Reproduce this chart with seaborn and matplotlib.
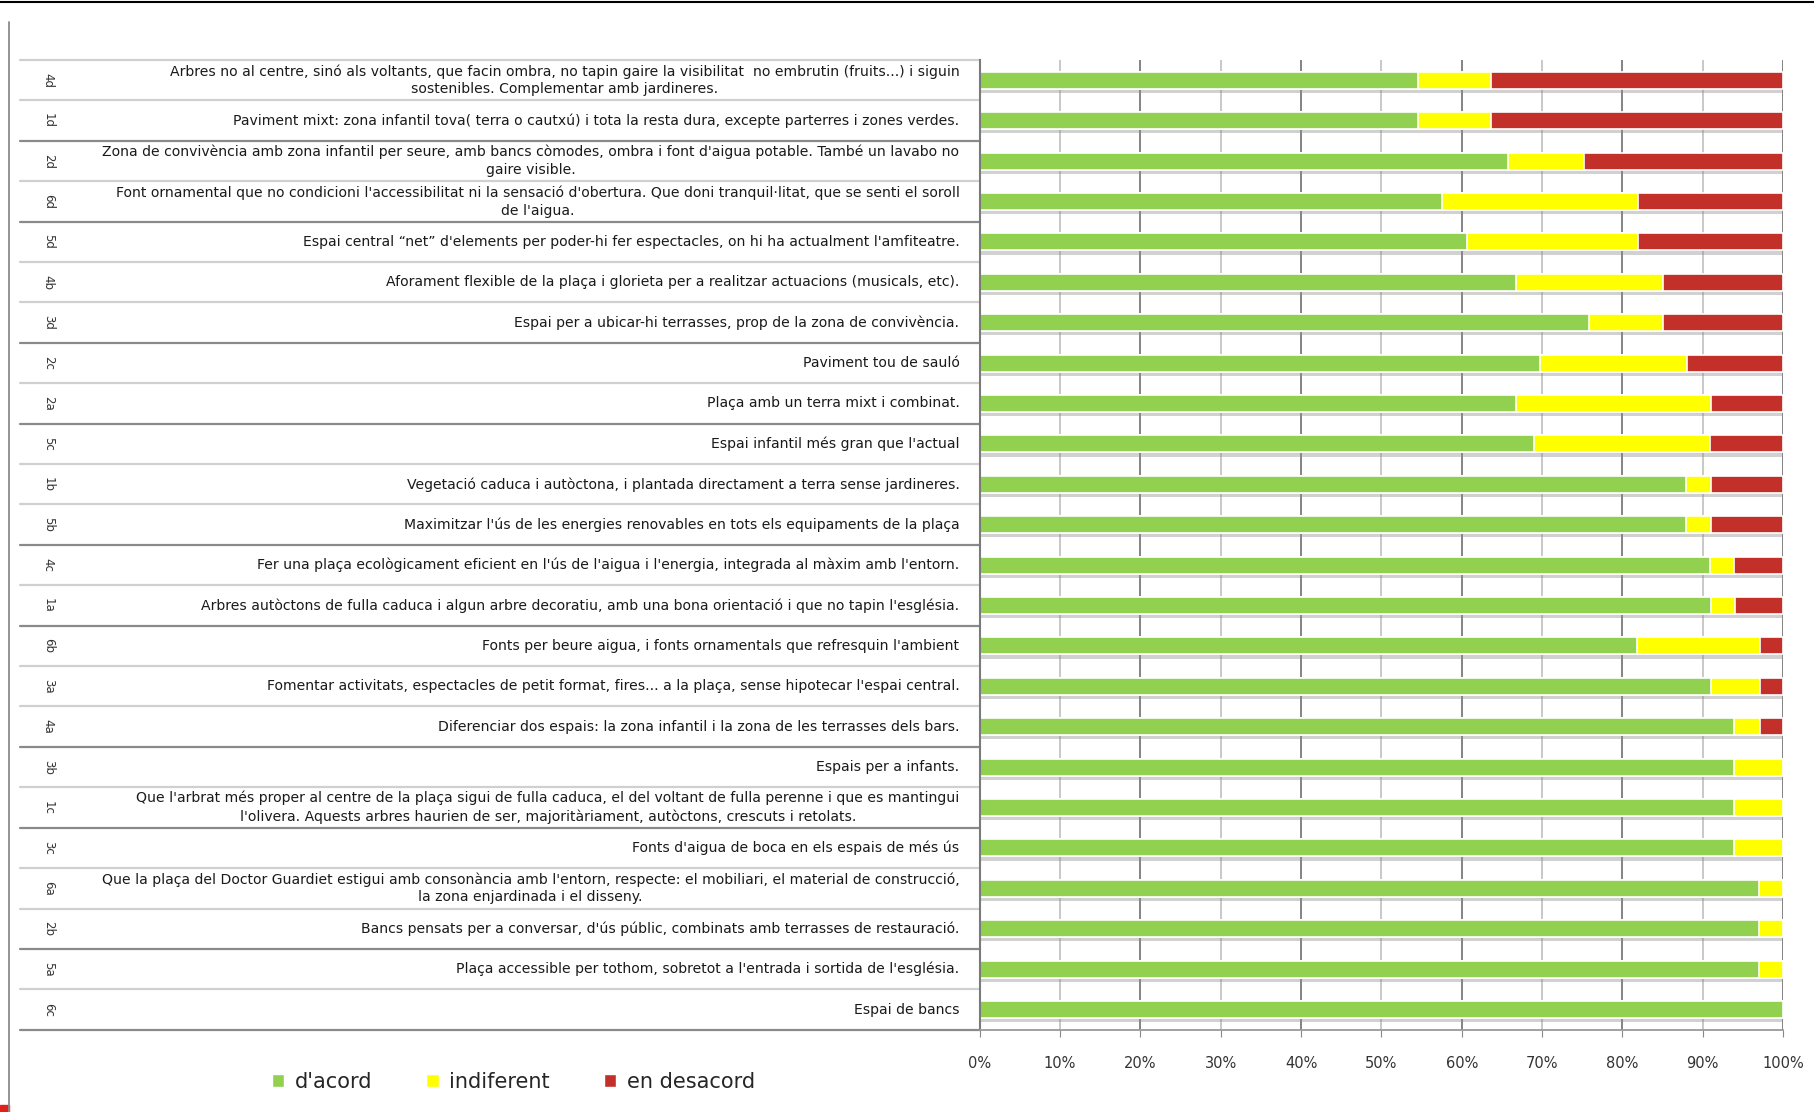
import pandas as pd
import matplotlib.pyplot as plt
import seaborn as sns
from matplotlib import patheffects
from matplotlib.lines import Line2D
from matplotlib.patches import Patch, Rectangle
from matplotlib.transforms import blended_transform_factory

# Row codes and proposals, top to bottom
codes = ['4d', '1d', '2d', '6d', '5d', '4b', '3d', '2c', '2a', '5c', '1b', '5b',
         '4c', '1a', '6b', '3a', '4a', '3b', '1c', '3c', '6a', '2b', '5a', '6c']

descriptions = [
    "Arbres no al centre, sinó als voltants, que facin ombra, no tapin gaire la visibilitat  no embrutin (fruits...) i siguin\nsostenibles. Complementar amb jardineres.",
    "Paviment mixt: zona infantil tova( terra o cautxú) i tota la resta dura, excepte parterres i zones verdes.",
    "Zona de convivència amb zona infantil per seure, amb bancs còmodes, ombra i font d'aigua potable. També un lavabo no\ngaire visible.",
    "Font ornamental que no condicioni l'accessibilitat ni la sensació d'obertura. Que doni tranquil·litat, que se senti el soroll\nde l'aigua.",
    "Espai central \u201cnet\u201d d'elements per poder-hi fer espectacles, on hi ha actualment l'amfiteatre.",
    "Aforament flexible de la plaça i glorieta per a realitzar actuacions (musicals, etc).",
    "Espai per a ubicar-hi terrasses, prop de la zona de convivència.",
    "Paviment tou de sauló",
    "Plaça amb un terra mixt i combinat.",
    "Espai infantil més gran que l'actual",
    "Vegetació caduca i autòctona, i plantada directament a terra sense jardineres.",
    "Maximitzar l'ús de les energies renovables en tots els equipaments de la plaça",
    "Fer una plaça ecològicament eficient en l'ús de l'aigua i l'energia, integrada al màxim amb l'entorn.",
    "Arbres autòctons de fulla caduca i algun arbre decoratiu, amb una bona orientació i que no tapin l'església.",
    "Fonts per beure aigua, i fonts ornamentals que refresquin l'ambient",
    "Fomentar activitats, espectacles de petit format, fires... a la plaça, sense hipotecar l'espai central.",
    "Diferenciar dos espais: la zona infantil i la zona de les terrasses dels bars.",
    "Espais per a infants.",
    "Que l'arbrat més proper al centre de la plaça sigui de fulla caduca, el del voltant de fulla perenne i que es mantingui\nl'olivera. Aquests arbres haurien de ser, majoritàriament, autòctons, crescuts i retolats.",
    "Fonts d'aigua de boca en els espais de més ús",
    "Que la plaça del Doctor Guardiet estigui amb consonància amb l'entorn, respecte: el mobiliari, el material de construcció,\nla zona enjardinada i el disseny.",
    "Bancs pensats per a conversar, d'ús públic, combinats amb terrasses de restauració.",
    "Plaça accessible per tothom, sobretot a l'entrada i sortida de l'església.",
    "Espai de bancs",
]

# percentages
acord = [54.5, 54.5, 65.7, 57.6, 60.6, 66.7, 75.8, 69.7, 66.7, 69.0, 87.9, 87.9,
         90.9, 91.0, 81.8, 91.0, 93.9, 93.9, 93.9, 93.9, 97.0, 97.0, 97.0, 100.0]
indiferent = [9.1, 9.1, 9.5, 24.3, 21.3, 18.4, 9.3, 18.3, 24.3, 21.9, 3.1, 3.1,
              3.0, 3.0, 15.3, 6.1, 3.2, 6.1, 6.1, 6.1, 3.0, 3.0, 3.0, 0.0]
desacord = [36.4, 36.4, 24.8, 18.1, 18.1, 14.9, 14.9, 12.0, 9.0, 9.1, 9.0, 9.0,
            6.1, 6.0, 2.9, 2.9, 2.9, 0.0, 0.0, 0.0, 0.0, 0.0, 0.0, 0.0]

green, yellow, red = '#92D050', '#FFFF00', '#C3302A'

df = pd.DataFrame({'codi': codes, 'acord': acord,
                   'indiferent': indiferent, 'desacord': desacord})
df['fins_indiferent'] = df['acord'] + df['indiferent']
df['total'] = df['fins_indiferent'] + df['desacord']

sns.set_style('white')
plt.rcParams['font.family'] = ['DejaVu Sans']

fig = plt.figure(figsize=(18.14, 11.12), dpi=100)
ax = fig.add_axes([0.540, 0.074, 0.443, 0.872])

# stacked bars drawn as overlapping cumulative totals
sns.barplot(data=df, y='codi', x='total', color=red, saturation=1, width=0.42,
            edgecolor='white', linewidth=1.2, errorbar=None, orient='h', ax=ax)
shadow = [patheffects.SimplePatchShadow(offset=(0.5, -3), shadow_rgbFace='#8c8c8c', alpha=0.4),
          patheffects.Normal()]
for p in ax.patches:
    p.set_path_effects(shadow)
sns.barplot(data=df, y='codi', x='fins_indiferent', color=yellow, saturation=1, width=0.42,
            edgecolor='white', linewidth=1.2, errorbar=None, orient='h', ax=ax)
sns.barplot(data=df, y='codi', x='acord', color=green, saturation=1, width=0.42,
            edgecolor='white', linewidth=1.2, errorbar=None, orient='h', ax=ax)

ax.set_xlim(0, 100)
ax.set_ylim(len(codes) - 0.5, -0.5)
ax.set_xticks(range(0, 101, 10))
ax.set_xticklabels([f'{v}%' for v in range(0, 101, 10)], fontsize=10.5, color='#333333')
ax.set_yticklabels([])
ax.tick_params(axis='y', length=0)
ax.tick_params(axis='x', length=5, color='#888888', pad=14, direction='out', bottom=True)
ax.set_xlabel('')
ax.set_ylabel('')

ax.set_axisbelow(True)
ax.xaxis.grid(True, color='#7a7a7a', lw=1.3)
for i, gl in enumerate(ax.get_xgridlines()):
    if i % 2:
        gl.set_color('#c4c4c4')

for side in ['top', 'right']:
    ax.spines[side].set_visible(False)
ax.spines['left'].set_color('#7a7a7a')
ax.spines['left'].set_linewidth(1.5)
ax.spines['bottom'].set_color('#9a9a9a')
ax.spines['bottom'].set_linewidth(1.3)

# row labels to the left of the bars
trans = blended_transform_factory(ax.transAxes, ax.transData)
for i, (c, d) in enumerate(zip(codes, descriptions)):
    ax.text(-0.025, i, d, transform=trans, ha='right', va='center',
            multialignment='center', fontsize=10.1, color='#1a1a1a', linespacing=1.35)
    ax.text(-1.159, i, c, transform=trans, ha='center', va='center',
            rotation=270, fontsize=8.5, color='#333333')

sep_colors = ['#d0d0d0', '#d0d0d0', '#8a8a8a', '#d0d0d0', '#8a8a8a']
for k in range(len(codes) + 1):
    ax.plot([-1.194, 0], [k - 0.5, k - 0.5], transform=trans, clip_on=False,
            color=sep_colors[k % len(sep_colors)], lw=1.6)

# page frame bits
fig.add_artist(Line2D([0, 1], [0.998, 0.998], color='black', lw=1.5))
fig.add_artist(Line2D([0.005, 0.005], [0, 0.98], color='#8a8a8a', lw=1.3))
fig.add_artist(Rectangle((0, 0), 0.005, 0.006, color='#e0201a', transform=fig.transFigure))

handles = [Patch(facecolor=green, label="d'acord"),
           Patch(facecolor=yellow, label='indiferent'),
           Patch(facecolor=red, label='en desacord')]
fig.legend(handles=handles, loc='center', bbox_to_anchor=(0.283, 0.027), ncol=3,
           frameon=False, fontsize=15, handlelength=0.6, handleheight=0.6,
           handletextpad=0.5, columnspacing=2.6)

plt.savefig('out.png', dpi=100)
